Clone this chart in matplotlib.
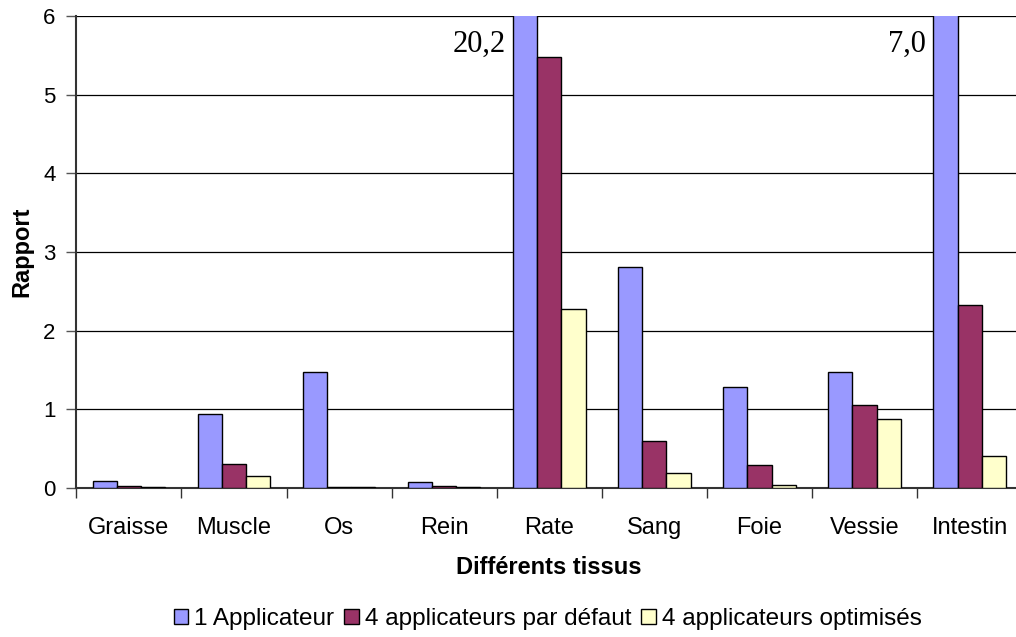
import numpy as np
import matplotlib
matplotlib.use('Agg')
import matplotlib.pyplot as plt

plt.rcParams['font.family'] = ['Liberation Sans', 'DejaVu Sans']

tissus = ['Graisse', 'Muscle', 'Os', 'Rein', 'Rate', 'Sang', 'Foie', 'Vessie', 'Intestin']
un_applicateur = [0.09, 0.94, 1.47, 0.08, 20.2, 2.81, 1.28, 1.47, 7.0]
quatre_defaut = [0.03, 0.31, 0.01, 0.03, 5.48, 0.60, 0.29, 1.05, 2.33]
quatre_optim = [0.01, 0.15, 0.01, 0.01, 2.27, 0.19, 0.04, 0.88, 0.40]
series_noms = ['1 Applicateur', '4 applicateurs par défaut', '4 applicateurs optimisés']
couleurs = ['#9999FF', '#993366', '#FFFFCC']

fig = plt.figure(figsize=(10.16, 6.37), dpi=100)
ax = fig.add_axes([0.0751, 0.234, 0.931, 0.741])

x = np.arange(len(tissus))
w = 0.23
for k, (vals, nom, c) in enumerate(zip([un_applicateur, quatre_defaut, quatre_optim], series_noms, couleurs)):
    ax.bar(x + (k - 1) * w, vals, w, color=c, edgecolor='black', linewidth=1.0, label=nom, zorder=3)

# valeurs hors échelle
for i, v in enumerate(un_applicateur):
    if v > 6:
        ax.text(x[i] - 1.5 * w - 0.07, 5.64, f'{v:.1f}'.replace('.', ','), ha='right', va='center',
                fontsize=22, family=['Liberation Serif'])

ax.set_xlim(-0.5, len(tissus) - 0.5)
ax.set_ylim(0, 6)
ax.set_yticks(range(0, 7))
ax.yaxis.grid(True, color='black', linewidth=0.9, zorder=0)
ax.set_xticks(np.arange(len(tissus) + 1) - 0.5, minor=True)
ax.set_xticks(x)
ax.set_xticklabels(tissus, fontsize=17)
ax.tick_params(axis='x', which='major', length=0, pad=21)
ax.tick_params(axis='x', which='minor', length=7, width=1, direction='out', color='#333333')
ax.tick_params(axis='y', labelsize=16, length=7, width=1, color='#555555', pad=8)
for s in ['top', 'right']:
    ax.spines[s].set_visible(False)
for s in ['left', 'bottom']:
    ax.spines[s].set_color('#333333')
    ax.spines[s].set_linewidth(1.5)

ax.set_ylabel('Rapport', fontsize=17, fontweight='bold', labelpad=7)
ax.set_xlabel('Différents tissus', fontsize=17, fontweight='bold', labelpad=12)

fig.legend(loc='center', bbox_to_anchor=(0.539, 0.028), ncol=3, frameon=False, fontsize=17.5,
           handlelength=0.6, handleheight=0.6, handletextpad=0.25, columnspacing=0.4)

fig.savefig('out.png', dpi=100)
